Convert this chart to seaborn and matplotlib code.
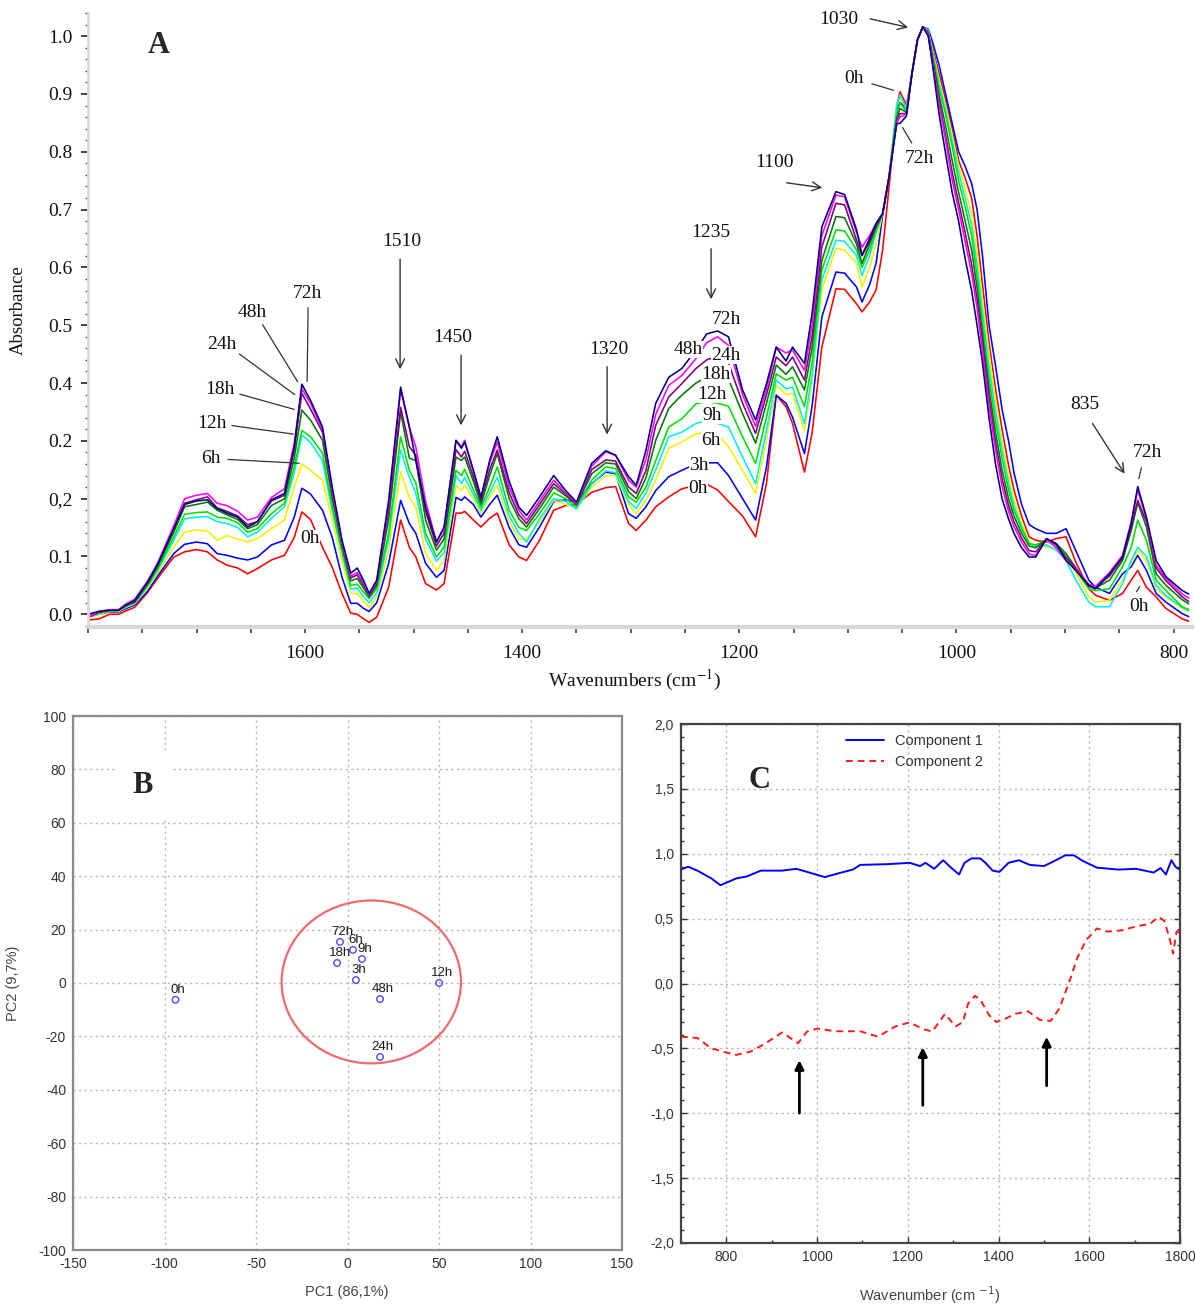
import matplotlib
matplotlib.use("Agg")
import matplotlib.pyplot as plt
import matplotlib.ticker as mticker
from matplotlib.patches import Ellipse
import pandas as pd
import seaborn as sns

sns.set_theme(style="white")
plt.rcParams["font.family"] = ["Liberation Sans", "DejaVu Sans"]
plt.rcParams["axes.unicode_minus"] = False
SERIF = ["Liberation Serif", "DejaVu Serif"]

# ---------------- Panel A: FTIR spectra over incubation time ----------------
wavenumber = [
    1800, 1790, 1780, 1772, 1765, 1757, 1745, 1736, 1721, 1711,
    1700, 1690, 1681, 1672, 1662, 1653, 1644, 1631, 1619, 1610,
    1603, 1595, 1584, 1575, 1566, 1558, 1552, 1546, 1541, 1534,
    1523, 1512, 1504, 1498, 1489, 1479, 1472, 1461, 1456, 1453,
    1445, 1438, 1430, 1423, 1412, 1403, 1396, 1384, 1371, 1360,
    1350, 1336, 1323, 1314, 1302, 1295, 1286, 1277, 1265, 1253,
    1240, 1230, 1220, 1210, 1197, 1185, 1175, 1166, 1157, 1151,
    1140, 1133, 1124, 1111, 1103, 1092, 1087, 1080, 1074, 1068,
    1062, 1055, 1052, 1046, 1041, 1036, 1031, 1026, 1022, 1016,
    1010, 1004, 998, 992, 986, 981, 976, 970, 964, 958,
    952, 947, 940, 933, 927, 917, 908, 899, 890, 878,
    872, 859, 847, 839, 833, 825, 816, 807, 792, 786,
]

abs_0h = [
    -.010, -.008, .000, .000, .006, .012, .038, .062, .099, .108,
    .112, .108, .094, .085, .080, .070, .079, .094, .102, .133,
    .177, .164, .116, .081, .036, .002, .000, -.008, -.014, -.005,
    .047, .163, .116, .099, .053, .042, .053, .175, .175, .178,
    .163, .151, .166, .175, .120, .099, .093, .128, .180, .188,
    .190, .211, .219, .221, .157, .145, .163, .186, .203, .217,
    .223, .225, .215, .195, .170, .134, .226, .379, .359, .330,
    .246, .313, .462, .563, .562, .537, .523, .540, .561, .630,
    .740, .878, .904, .880, .935, .993, 1.016, 1.010, .980, .935,
    .890, .840, .785, .755, .720, .655, .570, .470, .390, .320,
    .258, .215, .170, .134, .128, .125, .131, .134, .090, .044,
    .033, .024, .036, .059, .076, .047, .030, .010, -.008, -.012,
]
abs_3h = [
    -.005, .000, .004, .004, .010, .016, .040, .066, .105, .121,
    .125, .122, .105, .102, .097, .094, .099, .120, .128, .168,
    .218, .208, .180, .133, .064, .019, .019, .010, .005, .020,
    .088, .197, .157, .140, .088, .064, .076, .202, .197, .203,
    .190, .168, .190, .206, .150, .120, .116, .151, .195, .198,
    .194, .226, .246, .243, .174, .166, .186, .214, .238, .249,
    .260, .262, .262, .240, .200, .163, .255, .379, .365, .341,
    .278, .360, .514, .592, .590, .566, .540, .570, .607, .690,
    .757, .870, .885, .875, .935, .993, 1.016, 1.012, .990, .950,
    .900, .850, .800, .775, .745, .700, .620, .500, .430, .355,
    .300, .245, .190, .155, .148, .140, .140, .148, .110, .059,
    .047, .036, .070, .082, .102, .076, .036, .021, .001, -.004,
]
abs_6h = [
    -.005, .000, .005, .005, .012, .018, .045, .071, .116, .142,
    .146, .144, .128, .136, .130, .125, .131, .148, .163, .220,
    .260, .249, .232, .163, .093, .036, .036, .022, .012, .030,
    .111, .246, .202, .185, .105, .076, .093, .223, .214, .223,
    .200, .175, .203, .223, .160, .130, .130, .160, .197, .190,
    .184, .220, .240, .240, .190, .174, .197, .232, .287, .298,
    .312, .315, .310, .290, .249, .209, .301, .396, .380, .382,
    .318, .400, .561, .633, .630, .607, .566, .600, .641, .693,
    .757, .883, .893, .875, .935, .993, 1.016, 1.010, .975, .925,
    .880, .830, .775, .735, .690, .625, .545, .450, .370, .300,
    .240, .198, .160, .125, .118, .117, .113, .100, .072, .030,
    .021, .024, .060, .088, .111, .093, .044, .030, .010, .005,
]
abs_9h = [
    -.005, .002, .006, .006, .013, .019, .048, .075, .128, .165,
    .168, .169, .160, .157, .150, .134, .142, .166, .186, .245,
    .310, .297, .266, .178, .105, .044, .045, .030, .020, .037,
    .130, .284, .237, .209, .130, .092, .107, .240, .226, .237,
    .207, .180, .210, .237, .170, .140, .125, .165, .200, .195,
    .182, .225, .248, .245, .195, .183, .210, .250, .307, .315,
    .330, .335, .330, .324, .272, .226, .318, .405, .390, .393,
    .330, .415, .578, .647, .645, .620, .586, .620, .660, .693,
    .757, .880, .898, .875, .935, .993, 1.016, 1.010, .972, .918,
    .872, .820, .765, .720, .672, .605, .525, .430, .352, .285,
    .228, .188, .152, .122, .118, .120, .111, .093, .059, .021,
    .013, .013, .053, .093, .116, .100, .050, .032, .012, .006,
]
abs_12h = [
    -.005, .002, .006, .006, .014, .020, .050, .078, .134, .173,
    .176, .177, .168, .166, .158, .142, .148, .174, .192, .255,
    .318, .307, .279, .185, .110, .050, .052, .038, .027, .045,
    .140, .307, .249, .227, .140, .099, .116, .249, .240, .251,
    .215, .185, .220, .255, .180, .150, .145, .174, .210, .200,
    .186, .232, .255, .252, .203, .194, .220, .266, .324, .338,
    .364, .368, .365, .360, .307, .261, .341, .416, .405, .410,
    .359, .435, .595, .665, .663, .630, .600, .630, .665, .693,
    .757, .865, .884, .870, .935, .993, 1.016, 1.008, .968, .910,
    .865, .810, .750, .705, .655, .585, .505, .410, .335, .270,
    .215, .180, .148, .122, .120, .128, .116, .103, .076, .044,
    .041, .044, .082, .116, .163, .128, .059, .041, .013, .008,
]
abs_18h = [
    -.005, .003, .007, .007, .015, .021, .053, .082, .142, .186,
    .190, .194, .180, .172, .164, .148, .155, .188, .200, .270,
    .353, .336, .301, .200, .118, .058, .062, .045, .030, .050,
    .165, .350, .270, .266, .163, .111, .130, .272, .266, .272,
    .230, .190, .240, .278, .200, .165, .151, .183, .220, .205,
    .190, .243, .262, .260, .212, .200, .236, .301, .356, .379,
    .400, .410, .410, .407, .347, .296, .365, .431, .415, .428,
    .388, .460, .612, .688, .686, .640, .607, .640, .670, .693,
    .757, .858, .875, .868, .935, .993, 1.016, 1.006, .962, .898,
    .845, .785, .730, .680, .630, .565, .485, .390, .315, .250,
    .200, .170, .140, .118, .115, .130, .122, .105, .080, .048,
    .045, .059, .093, .145, .193, .151, .070, .050, .025, .018,
]
abs_24h = [
    -.005, .004, .007, .007, .016, .022, .055, .085, .149, .192,
    .198, .203, .184, .178, .170, .155, .160, .196, .206, .285,
    .382, .355, .315, .210, .122, .063, .068, .050, .032, .054,
    .180, .358, .290, .275, .178, .118, .140, .285, .272, .282,
    .238, .196, .250, .284, .210, .172, .157, .190, .226, .208,
    .190, .250, .267, .265, .220, .209, .249, .327, .376, .399,
    .425, .440, .447, .435, .365, .313, .380, .445, .430, .445,
    .405, .480, .635, .711, .708, .647, .620, .645, .672, .693,
    .757, .853, .866, .866, .935, .993, 1.016, 1.005, .958, .888,
    .828, .765, .712, .660, .605, .545, .470, .375, .298, .235,
    .188, .160, .132, .110, .108, .130, .120, .098, .080, .050,
    .046, .066, .097, .150, .197, .160, .080, .058, .030, .022,
]
abs_48h = [
    -.005, .005, .008, .008, .018, .026, .058, .088, .153, .200,
    .206, .209, .192, .188, .178, .163, .168, .202, .217, .296,
    .390, .365, .320, .215, .125, .066, .072, .055, .034, .057,
    .190, .388, .324, .289, .195, .125, .148, .300, .290, .301,
    .248, .202, .262, .298, .220, .180, .163, .196, .232, .210,
    .192, .256, .281, .275, .232, .220, .268, .346, .396, .413,
    .442, .470, .480, .465, .380, .325, .390, .462, .452, .457,
    .422, .500, .655, .725, .722, .660, .635, .655, .676, .693,
    .757, .850, .860, .865, .935, .993, 1.016, 1.004, .955, .882,
    .820, .752, .700, .645, .590, .530, .455, .360, .285, .222,
    .178, .152, .125, .104, .102, .130, .115, .093, .078, .052,
    .048, .072, .102, .160, .215, .165, .085, .062, .035, .028,
]
abs_72h = [
    .000, .005, .007, .007, .016, .024, .056, .086, .148, .190,
    .196, .198, .183, .175, .168, .151, .160, .198, .209, .290,
    .398, .370, .324, .220, .128, .071, .080, .058, .036, .059,
    .197, .393, .324, .266, .185, .125, .151, .301, .287, .298,
    .249, .202, .266, .307, .230, .185, .171, .203, .240, .214,
    .194, .261, .283, .275, .238, .223, .284, .365, .410, .425,
    .457, .485, .490, .480, .388, .336, .399, .462, .438, .462,
    .434, .520, .670, .731, .726, .665, .621, .650, .676, .693,
    .757, .849, .849, .862, .935, .993, 1.016, 1.000, .950, .865,
    .797, .730, .680, .615, .560, .500, .435, .340, .260, .200,
    .165, .140, .115, .099, .099, .131, .122, .093, .076, .050,
    .044, .070, .099, .157, .221, .168, .093, .065, .041, .035,
]

times = ["0h", "3h", "6h", "9h", "12h", "18h", "24h", "48h", "72h"]
spectra = [abs_0h, abs_3h, abs_6h, abs_9h, abs_12h, abs_18h, abs_24h, abs_48h, abs_72h]
time_colors = ["#ff0000", "#0000ff", "#f2f200", "#00f0f0", "#00e000",
               "#007a00", "#800080", "#ff00ff", "#000080"]

y_tick_values = [0.0, 0.1, 0.2, 0.3, 0.4, 0.5, 0.6, 0.7, 0.8, 0.9, 1.0]
y_tick_labels = ["0.0", "0.1", "0,2", "0.2", "0.4", "0.5", "0.6", "0.7", "0.8", "0.9", "1.0"]
x_tick_labelled = [1600, 1400, 1200, 1000, 800]

# ---------------- Panel B: PCA scores ----------------
pc1_scores = [-94.0, 4.6, 3.0, 7.9, 50.1, -5.7, 17.8, 17.8, -4.1]
pc2_scores = [-6.3, 1.1, 12.4, 9.0, 0.0, 7.5, -27.7, -6.0, 15.4]
ellipse_center = (13.0, 0.4)
ellipse_size = (98.0, 61.0)

# ---------------- Panel C: loadings ----------------
comp1_wn = [700, 716, 736, 767, 787, 802, 822, 845, 876, 923,
            954, 978, 1017, 1048, 1079, 1095, 1157, 1204, 1227, 1239,
            1258, 1278, 1293, 1313, 1325, 1340, 1360, 1371, 1387, 1402,
            1422, 1445, 1469, 1500, 1523, 1547, 1566, 1586, 1617, 1664,
            1703, 1742, 1757, 1769, 1781, 1790, 1800]
comp1 = [0.878, 0.90, 0.87, 0.81, 0.757, 0.78, 0.81, 0.825, 0.87, 0.87,
         0.884, 0.86, 0.82, 0.85, 0.878, 0.914, 0.92, 0.93, 0.905, 0.93,
         0.884, 0.95, 0.90, 0.84, 0.93, 0.964, 0.964, 0.93, 0.87, 0.86,
         0.93, 0.95, 0.914, 0.905, 0.944, 0.988, 0.988, 0.944, 0.893, 0.878,
         0.884, 0.855, 0.89, 0.84, 0.95, 0.90, 0.875]
comp2_wn = [700, 736, 767, 798, 822, 853, 884, 923, 958, 978,
            1001, 1040, 1095, 1134, 1173, 1204, 1235, 1254, 1282, 1305,
            1321, 1333, 1348, 1360, 1379, 1395, 1414, 1437, 1465, 1492,
            1515, 1534, 1554, 1574, 1593, 1617, 1640, 1672, 1703, 1734,
            1753, 1765, 1777, 1785, 1792, 1800]
comp2 = [-0.41, -0.42, -0.50, -0.53, -0.55, -0.525, -0.466, -0.377, -0.46, -0.37,
         -0.347, -0.368, -0.368, -0.41, -0.33, -0.30, -0.353, -0.37, -0.234, -0.33,
         -0.30, -0.154, -0.095, -0.125, -0.243, -0.297, -0.273, -0.234, -0.214, -0.282,
         -0.288, -0.193, -0.006, 0.20, 0.335, 0.424, 0.40, 0.41, 0.44, 0.46,
         0.513, 0.484, 0.35, 0.23, 0.395, 0.424]
marker_wn = [961, 1233, 1506]
marker_tail = [-1.02, -0.96, -0.81]
marker_head = [-0.57, -0.47, -0.39]

# ============================================================================
W, H = 1195, 1306
fig = plt.figure(figsize=(W / 100, H / 100), dpi=100)
fig.patch.set_facecolor("white")


def fx(px):
    return px / W


def fy(py):
    return 1 - py / H


# ---------------- A ----------------
axA = fig.add_axes([fx(88), fy(627), fx(1192) - fx(88), fy(13) - fy(627)])
dfA = pd.DataFrame({
    "wavenumber": wavenumber * len(times),
    "absorbance": [v for s in spectra for v in s],
    "time": [t for t in times for _ in wavenumber],
})
sns.lineplot(data=dfA, x="wavenumber", y="absorbance", hue="time", hue_order=times,
             palette=time_colors, estimator=None, sort=True, legend=False,
             linewidth=1.15, ax=axA)
axA.set_xlim(1800, 783)
axA.set_ylim(-0.022, 1.04)
axA.set_xlabel("")
axA.set_ylabel("")
for s in ("top", "right"):
    axA.spines[s].set_visible(False)
axA.spines["left"].set_color("#dcdcdc")
axA.spines["left"].set_linewidth(2)
axA.spines["bottom"].set_color("#d6d6d6")
axA.spines["bottom"].set_linewidth(3)
axA.xaxis.set_major_locator(mticker.MultipleLocator(50))
axA.xaxis.set_major_formatter(mticker.FuncFormatter(
    lambda v, p: f"{int(round(v))}" if int(round(v)) in x_tick_labelled else ""))
axA.yaxis.set_major_locator(mticker.FixedLocator(y_tick_values))
axA.yaxis.set_major_formatter(mticker.FixedFormatter(y_tick_labels))
axA.yaxis.set_minor_locator(mticker.MultipleLocator(0.02))
axA.tick_params(axis="x", which="major", direction="out", length=4, width=1.2,
                color="#444444", pad=9, labelsize=14, labelcolor="#111111", bottom=True)
axA.tick_params(axis="y", which="major", direction="out", length=5, width=1.4,
                color="#444444", pad=6, labelsize=14, labelcolor="#111111", left=True)
axA.tick_params(axis="y", which="minor", direction="out", length=2, width=1.0,
                color="#555555", left=True)
for lab in axA.get_xticklabels() + axA.get_yticklabels():
    lab.set_family(SERIF)

fig.text(fx(18), fy(310), "Absorbance", rotation=90, ha="center", va="center",
         family=SERIF, fontsize=13.5, color="#111111")
fig.text(fx(634), fy(680), "Wavenumbers (cm$^{-1}$)", ha="center", va="center",
         family=SERIF, fontsize=14, color="#111111", math_fontfamily="stix")
axA.text(1734.5, 0.984, "A", family=SERIF, fontsize=22, fontweight="bold",
         ha="center", va="center")

arrow_kw = dict(arrowstyle="->", color="#333333", lw=1.0, mutation_scale=16)
line_kw = dict(arrowstyle="-", color="#333333", lw=0.9)
txt_kw = dict(family=SERIF, fontsize=14, color="#111111", ha="center", va="center")

# band assignments with arrows: (label, text pos, tail, head)
bands = [
    ("1030", (1108, 1.028), (1082, 1.031), (1042, 1.014)),
    ("1100", (1168, 0.782), (1159, 0.747), (1121, 0.737)),
    ("1235", (1226, 0.661), (1226, 0.637), (1226, 0.540)),
    ("1510", (1510.6, 0.645), (1512.5, 0.619), (1512.5, 0.419)),
    ("1450", (1463.7, 0.479), (1456.3, 0.453), (1456.3, 0.322)),
    ("1320", (1320, 0.458), (1321.8, 0.433), (1321.8, 0.306)),
    ("835", (881.4, 0.362), (876, 0.334), (843.7, 0.239)),
]
for lab, tpos, tail, head in bands:
    axA.text(*tpos, lab, **txt_kw)
    axA.annotate("", xy=head, xytext=tail, arrowprops=arrow_kw)

# time labels with leader lines
leaders = [
    ("0h", (1094.2, 0.927), (1080.4, 0.919), (1055.6, 0.905)),
    ("72h", (1034.4, 0.789), (1039.9, 0.811), (1050.9, 0.846)),
    ("72h", (824.3, 0.279), (829.0, 0.258), (832.6, 0.230)),
    ("0h", (831.7, 0.014), (835.4, 0.035), (829.8, 0.052)),
    ("72h", (1598.2, 0.554), (1597.2, 0.535), (1598.2, 0.398)),
    ("48h", (1648.8, 0.522), (1640.5, 0.505), (1605.5, 0.398)),
    ("24h", (1676.5, 0.467), (1662.6, 0.453), (1607.4, 0.377)),
    ("18h", (1678.3, 0.389), (1662.6, 0.382), (1607.4, 0.353)),
    ("12h", (1685.7, 0.330), (1670.0, 0.327), (1608.3, 0.311)),
    ("6h", (1686.6, 0.270), (1673.7, 0.268), (1602.8, 0.261)),
]
for lab, tpos, tail, head in leaders:
    axA.text(*tpos, lab, zorder=5,
             bbox=dict(fc="white", ec="none", pad=0.3), **txt_kw)
    axA.annotate("", xy=head, xytext=tail, arrowprops=line_kw)

# labels stacked beside the 1235 band and the 1600 band
stacked = [
    ("72h", 1212.2, 0.509), ("48h", 1247.2, 0.458), ("24h", 1212.2, 0.448),
    ("18h", 1221.4, 0.415), ("12h", 1225.1, 0.381), ("9h", 1225.1, 0.344),
    ("6h", 1226.0, 0.301), ("3h", 1237.0, 0.258), ("0h", 1238.0, 0.218),
    ("0h", 1595.4, 0.131),
]
for lab, x, y in stacked:
    axA.text(x, y, lab, zorder=5, bbox=dict(fc="white", ec="none", pad=0.3), **txt_kw)

# ---------------- B ----------------
axB = fig.add_axes([fx(73), fy(1250), fx(622) - fx(73), fy(716) - fy(1250)])
sns.scatterplot(x=pc1_scores, y=pc2_scores, ax=axB, marker="o", s=22,
                color="#4a4aff", linewidth=1.0, zorder=4)
for coll in axB.collections:
    coll.set_facecolor("none")
    coll.set_edgecolor("#4a4aff")
for lab, x, y in zip(times, pc1_scores, pc2_scores):
    axB.text(x + 1.5, y + 3.8, lab, ha="center", va="center", fontsize=9.5,
             color="#1a1a1a", zorder=5)
axB.add_patch(Ellipse(ellipse_center, ellipse_size[0], ellipse_size[1],
                      fill=False, ec="#f06a6a", lw=1.6, zorder=3))
axB.set_xlim(-150, 150)
axB.set_ylim(-100, 100)
axB.set_xticks(range(-150, 151, 50))
axB.set_yticks(range(-100, 101, 20))
axB.grid(True, linestyle=(0, (1.5, 2.5)), color="#b4b4b4", lw=1.0)
for s in axB.spines.values():
    s.set_color("#8a8a8a")
    s.set_linewidth(1.6)
axB.tick_params(axis="both", length=0, labelsize=10, labelcolor="#333333", pad=5)
axB.text(-112, 74, "B", family=SERIF, fontsize=22, fontweight="bold",
         ha="center", va="center", zorder=6,
         bbox=dict(fc="white", ec="none", boxstyle="square,pad=0.6"))
fig.text(fx(347), fy(1292), "PC1 (86,1%)", ha="center", va="center",
         fontsize=10.5, color="#444444")
fig.text(fx(13), fy(983), "PC2 (9,7%)", rotation=90, ha="center", va="center",
         fontsize=10.5, color="#444444")

# ---------------- C ----------------
axC = fig.add_axes([fx(681), fy(1243), fx(1180) - fx(681), fy(724) - fy(1243)])
sns.lineplot(x=comp1_wn, y=comp1, ax=axC, color="#0000ff", lw=1.4,
             label="Component 1", estimator=None)
sns.lineplot(x=comp2_wn, y=comp2, ax=axC, color="#ff1a1a", lw=1.4,
             linestyle=(0, (3.5, 2.5)), label="Component 2", estimator=None)
for x, t, h in zip(marker_wn, marker_tail, marker_head):
    axC.annotate("", xy=(x, h), xytext=(x, t),
                 arrowprops=dict(arrowstyle="-|>", color="black", lw=2.0,
                                 mutation_scale=13))
axC.set_xlim(700, 1800)
axC.set_ylim(-2.0, 2.0)
axC.set_xticks(range(800, 1801, 200))
axC.xaxis.set_minor_locator(mticker.MultipleLocator(100))
axC.yaxis.set_major_locator(mticker.MultipleLocator(0.5))
axC.yaxis.set_minor_locator(mticker.MultipleLocator(0.1))
axC.yaxis.set_major_formatter(mticker.FuncFormatter(lambda v, p: f"{v:.1f}".replace(".", ",")))
axC.grid(True, which="major", linestyle=(0, (1.5, 2.5)), color="#b4b4b4", lw=1.0)
for s in axC.spines.values():
    s.set_color("#444444")
    s.set_linewidth(1.6)
axC.tick_params(axis="both", which="major", direction="in", length=4, width=1,
                color="#333333", labelsize=10, labelcolor="#333333",
                left=True, right=True, bottom=True, top=False, pad=5)
axC.tick_params(axis="both", which="minor", direction="in", length=2.5, width=1,
                color="#333333", left=True, right=True, bottom=True)
axC.set_xlabel("")
axC.set_ylabel("")
leg = axC.legend(loc="upper left", bbox_to_anchor=(0.31, 1.0), frameon=False,
                 fontsize=10.5, handlelength=2.6, borderaxespad=0.3,
                 labelspacing=0.45)
for t in leg.get_texts():
    t.set_color("#333333")
axC.text(0.158, 0.892, "C", transform=axC.transAxes, family=SERIF, fontsize=22,
         fontweight="bold", ha="center", va="center")
fig.text(fx(930), fy(1295), "Wavenumber (cm $^{-1}$)", ha="center", va="center",
         fontsize=10.5, color="#444444", math_fontfamily="dejavusans")

fig.savefig("out.png", dpi=100, facecolor="white")
